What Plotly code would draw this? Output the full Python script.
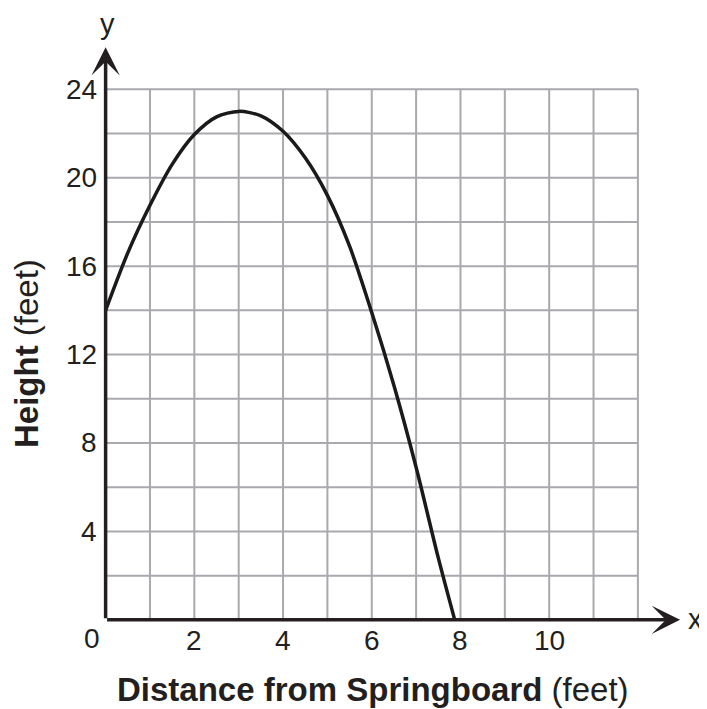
import plotly.graph_objects as go

# Data
distance_ft = [0, 0.5, 1, 1.5, 2, 2.5, 3, 3.5, 4, 4.5, 5, 5.5, 6, 6.5, 7, 7.5, 7.87]
height_ft = [14, 16.6, 18.75, 20.6, 21.95, 22.75, 23, 22.8, 22.1, 20.9, 19.2, 16.9, 13.9, 10.6, 6.9, 2.8, 0]

x_tick_vals = [2, 4, 6, 8, 10]
y_tick_vals = [4, 8, 12, 16, 20, 24]
x_grid_max = 12
y_grid_max = 24
y_grid_step = 2

FONT = "Liberation Sans, Arial, Helvetica, sans-serif"
TXT = "#231f20"
GRID = "#a9a9ae"

# page has an 8px body margin; plot area placed at page px (79..700, 34..653)
W, H = 699, 701
ML, MR, MT, MB = 71, 7, 26, 56
PL, PT = 8 + ML, 8 + MT          # plot-area left/top in page px
PW, PH = W - ML - MR, H - MT - MB


def px(xp):
    return (xp - PL) / PW


def py(yp):
    return (PT + PH - yp) / PH


fig = go.Figure()
fig.add_trace(go.Scatter(
    x=distance_ft, y=height_ft, mode="lines",
    line=dict(color="#1a1a1a", width=3.5, shape="spline", smoothing=0.8),
    hoverinfo="skip", showlegend=False, cliponaxis=False,
))

shapes = []
for gx in range(1, x_grid_max + 1):
    shapes.append(dict(type="line", xref="x", yref="y", x0=gx, x1=gx, y0=0, y1=y_grid_max,
                       line=dict(color=GRID, width=2), layer="below"))
for gy in range(y_grid_step, y_grid_max + 1, y_grid_step):
    shapes.append(dict(type="line", xref="x", yref="y", x0=0, x1=x_grid_max, y0=gy, y1=gy,
                       line=dict(color=GRID, width=2), layer="below"))

ann = []
# axes with arrows
ann.append(dict(x=12.95, y=0, ax=0, ay=0, xref="x", yref="y", axref="x", ayref="y",
                showarrow=True, arrowhead=3, arrowsize=1.35, arrowwidth=3.5, arrowcolor="#231f20", text=""))
ann.append(dict(x=0, y=25.9, ax=0, ay=0, xref="x", yref="y", axref="x", ayref="y",
                showarrow=True, arrowhead=3, arrowsize=1.35, arrowwidth=3.5, arrowcolor="#231f20", text=""))
# tick labels
for v in x_tick_vals:
    ann.append(dict(x=v, y=-0.95, xref="x", yref="y", text=str(v), showarrow=False,
                    xanchor="center", yanchor="middle", font=dict(family=FONT, size=28, color=TXT)))
ann.append(dict(x=-0.3, y=-0.85, xref="x", yref="y", text="0", showarrow=False,
                xanchor="center", yanchor="middle", font=dict(family=FONT, size=28, color=TXT)))
for v in y_tick_vals:
    ann.append(dict(x=-0.14, y=v, xref="x", yref="y", text=str(v), showarrow=False,
                    xanchor="right", yanchor="middle", font=dict(family=FONT, size=28, color=TXT)))
# axis letters
ann.append(dict(x=px(107), y=py(24), xref="paper", yref="paper", text="y",
                showarrow=False, xanchor="center", yanchor="middle", font=dict(family=FONT, size=29, color=TXT)))
ann.append(dict(x=px(695), y=py(619), xref="paper", yref="paper", text="x",
                showarrow=False, xanchor="center", yanchor="middle", font=dict(family=FONT, size=29, color=TXT)))
# axis titles
ann.append(dict(x=px(373), y=py(689), xref="paper", yref="paper",
                text="<b>Distance from Springboard</b> (feet)", showarrow=False,
                xanchor="center", yanchor="middle", font=dict(family=FONT, size=33, color=TXT)))
ann.append(dict(x=px(26), y=py(354), xref="paper", yref="paper",
                text="<b>Height</b> (feet)", showarrow=False, textangle=-90,
                xanchor="center", yanchor="middle", font=dict(family=FONT, size=33, color=TXT)))

fig.update_layout(
    width=W, height=H,
    margin=dict(l=ML, r=MR, t=MT, b=MB),
    paper_bgcolor="white", plot_bgcolor="white",
    xaxis=dict(range=[-0.6, 13.4], showgrid=False, zeroline=False, showline=False,
               showticklabels=False, ticks="", fixedrange=True),
    yaxis=dict(range=[-1.5, 26.5], showgrid=False, zeroline=False, showline=False,
               showticklabels=False, ticks="", fixedrange=True),
    shapes=shapes, annotations=ann, showlegend=False,
)

fig.write_html("out.html")
